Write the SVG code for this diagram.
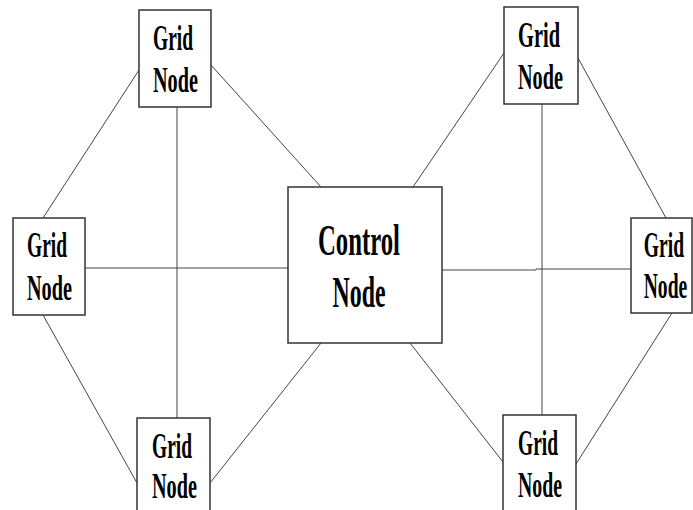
<svg xmlns="http://www.w3.org/2000/svg" width="693" height="510" viewBox="0 0 693 510">
  <style>
    .box { fill: #ffffff; stroke: #333333; stroke-width: 1.5; }
    .link { stroke: #444444; stroke-width: 1; fill: none; }
    .lbl { font-family: "Liberation Serif", "Times New Roman", serif; font-weight: bold; fill: #000000; text-anchor: middle; }
    .g { font-size: 35px; }
    .c { font-size: 45px; }
  </style>
  <rect width="693" height="510" fill="#ffffff"/>

  <!-- connectors -->
  <g id="connectors">
    <!-- left cluster -->
    <line class="link" x1="139" y1="70" x2="43" y2="218"/>
    <line class="link" x1="43" y1="315" x2="137" y2="483"/>
    <line class="link" x1="177" y1="107" x2="177" y2="418"/>
    <line class="link" x1="85" y1="268" x2="288" y2="268"/>
    <line class="link" x1="211" y1="65" x2="321" y2="187"/>
    <line class="link" x1="210" y1="483" x2="321" y2="343"/>
    <!-- right cluster -->
    <line class="link" x1="504" y1="53" x2="413" y2="187"/>
    <line class="link" x1="578" y1="58" x2="666" y2="218"/>
    <line class="link" x1="542" y1="104" x2="542" y2="415"/>
    <polyline class="link" points="442,270 536,270 536,269 631,269"/>
    <line class="link" x1="410" y1="343" x2="503" y2="462"/>
    <line class="link" x1="672" y1="313" x2="576" y2="464"/>
  </g>

  <!-- nodes -->
  <g id="control-node">
    <rect class="box" x="288" y="187" width="154" height="156"/>
    <text class="lbl c" x="359" y="255" textLength="82" lengthAdjust="spacingAndGlyphs">Control</text>
    <text class="lbl c" x="359" y="307" textLength="53" lengthAdjust="spacingAndGlyphs">Node</text>
  </g>

  <g id="grid-node-top-left">
    <rect class="box" x="139" y="10" width="72" height="97"/>
    <text class="lbl g" x="173" y="50" textLength="40" lengthAdjust="spacingAndGlyphs">Grid</text>
    <text class="lbl g" x="175.5" y="92" textLength="45" lengthAdjust="spacingAndGlyphs">Node</text>
  </g>

  <g id="grid-node-left">
    <rect class="box" x="13" y="218" width="72" height="97"/>
    <text class="lbl g" x="47" y="257" textLength="40" lengthAdjust="spacingAndGlyphs">Grid</text>
    <text class="lbl g" x="49.5" y="300" textLength="45" lengthAdjust="spacingAndGlyphs">Node</text>
  </g>

  <g id="grid-node-bottom-left">
    <rect class="box" x="137" y="418" width="73" height="110"/>
    <text class="lbl g" x="172" y="458" textLength="40" lengthAdjust="spacingAndGlyphs">Grid</text>
    <text class="lbl g" x="174.5" y="498" textLength="45" lengthAdjust="spacingAndGlyphs">Node</text>
  </g>

  <g id="grid-node-top-right">
    <rect class="box" x="504" y="7" width="74" height="97"/>
    <text class="lbl g" x="539" y="47" textLength="42" lengthAdjust="spacingAndGlyphs">Grid</text>
    <text class="lbl g" x="540.5" y="89" textLength="45" lengthAdjust="spacingAndGlyphs">Node</text>
  </g>

  <g id="grid-node-right">
    <rect class="box" x="631" y="218" width="61" height="95"/>
    <!-- narrow box: labels condensed with a horizontal scale -->
    <text class="lbl g" transform="translate(664 257) scale(0.56 1)">Grid</text>
    <text class="lbl g" transform="translate(665.5 298) scale(0.56 1)">Node</text>
  </g>

  <g id="grid-node-bottom-right">
    <rect class="box" x="503" y="415" width="73" height="110"/>
    <text class="lbl g" x="538" y="455" textLength="40" lengthAdjust="spacingAndGlyphs">Grid</text>
    <text class="lbl g" x="540" y="497" textLength="44" lengthAdjust="spacingAndGlyphs">Node</text>
  </g>
</svg>
